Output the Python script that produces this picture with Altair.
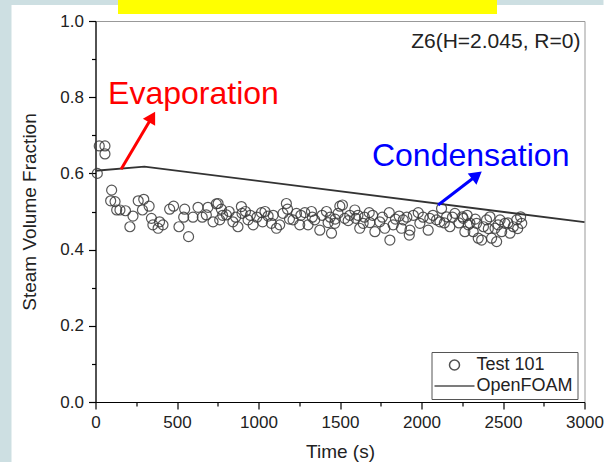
import altair as alt
import pandas as pd

# ---- Test 101 measurements (time s, steam volume fraction) ----
test_t = [11, 23, 58, 58, 93, 99, 120, 130, 150, 184, 211, 230, 262, 288, 296, 329, 343, 352,
          384, 393, 414, 455, 479, 512, 541, 547, 571, 598, 629, 655, 680, 690, 721, 741,
          752, 762, 772, 780, 803, 820, 843, 860, 874, 895, 899, 920, 936, 950, 967, 990,
          1018, 1025, 1040, 1059, 1079, 1090, 1110, 1130, 1150, 1171, 1178, 1190, 1212, 1233,
          1253, 1260, 1284, 1304, 1325, 1330, 1345, 1376, 1390, 1417, 1427, 1440, 1448, 1468,
          1470, 1488, 1499, 1515, 1529, 1550, 1560, 1591, 1597, 1610, 1621, 1642, 1650, 1679,
          1683, 1700, 1714, 1744, 1760, 1775, 1802, 1806, 1826, 1840, 1863, 1877, 1888, 1910,
          1925, 1929, 1950, 1980, 1990, 2010, 2041, 2051, 2070, 2092, 2113, 2123, 2140, 2154,
          2174, 2190, 2205, 2230, 2251, 2256, 2266, 2280, 2287, 2297, 2317, 2330, 2338, 2348,
          2369, 2380, 2399, 2410, 2420, 2430, 2451, 2461, 2470, 2482, 2492, 2512, 2530, 2543,
          2563, 2584, 2590, 2608, 2615]
test_v = [0.600, 0.672, 0.672, 0.651, 0.528, 0.556, 0.526, 0.504, 0.504, 0.502, 0.460, 0.488,
          0.528, 0.504, 0.532, 0.514, 0.482, 0.465, 0.456, 0.473, 0.465, 0.506, 0.514, 0.460,
          0.485, 0.506, 0.434, 0.485, 0.511, 0.485, 0.491, 0.511, 0.473, 0.520,
          0.521, 0.478, 0.506, 0.490, 0.491, 0.500, 0.473, 0.485, 0.460, 0.513, 0.495, 0.500,
          0.478, 0.490, 0.465, 0.485,
          0.497, 0.473, 0.500, 0.488, 0.469, 0.490, 0.456, 0.465, 0.495, 0.521, 0.506, 0.480,
          0.478, 0.495, 0.465, 0.490, 0.497, 0.465, 0.500, 0.485, 0.478, 0.451, 0.490, 0.500,
          0.471, 0.485, 0.443, 0.469, 0.480, 0.495, 0.514, 0.517, 0.482, 0.476, 0.490, 0.504,
          0.482, 0.490, 0.456, 0.469, 0.485, 0.497, 0.471, 0.490, 0.447, 0.473, 0.485, 0.456,
          0.497, 0.425, 0.465, 0.480, 0.488, 0.456, 0.478, 0.485, 0.438, 0.451, 0.490, 0.497,
          0.469, 0.485, 0.451, 0.482, 0.490, 0.478, 0.473, 0.508, 0.470, 0.486, 0.460, 0.485,
          0.495, 0.470, 0.486, 0.482, 0.447, 0.490, 0.465, 0.469, 0.447, 0.480, 0.469, 0.430,
          0.425, 0.460, 0.478, 0.455, 0.486, 0.430, 0.456, 0.421, 0.465, 0.478, 0.447, 0.469,
          0.470, 0.443, 0.460, 0.478, 0.455, 0.486, 0.469]

# ---- OpenFOAM simulation ----
sim_t = [0, 300, 3000]
sim_v = [0.607, 0.618, 0.472]

# ---- annotations ----
ann_text = ["Evaporation", "Condensation"]
ann_x = [77, 1696]
ann_y = [0.782, 0.619]
ann_color = ["#ff0000", "#0000ff"]
arrow_x0 = [157, 2102]
arrow_y0 = [0.611, 0.517]
arrow_x1 = [347, 2340]
arrow_y1 = [0.748, 0.595]
arrow_angle = [30, 52]

series = ["Test 101", "OpenFOAM"]

pts = pd.DataFrame({"t": test_t, "v": test_v, "series": "Test 101"})
sim = pd.DataFrame({"t": sim_t, "v": sim_v})
ann = pd.DataFrame({"text": ann_text, "x": ann_x, "y": ann_y, "c": ann_color})
arr = pd.DataFrame({"x0": arrow_x0, "y0": arrow_y0, "x1": arrow_x1, "y1": arrow_y1,
                    "c": ann_color, "a": arrow_angle})
lab = pd.DataFrame({"text": ["Z6(H=2.045, R=0)"], "x": [2975], "y": [0.945]})

xs = alt.Scale(domain=[0, 3000], nice=False, zero=False)
ys = alt.Scale(domain=[0, 1], nice=False)

FONT = "Liberation Sans"

main_x = alt.Axis(orient="bottom", values=[0, 500, 1000, 1500, 2000, 2500, 3000], format="d",
                  tickSize=7, labelFontSize=17, labelPadding=5, labelFlush=False,
                  labelOverlap=False, title="Time (s)", titleFontSize=19,
                  titleFontWeight="normal", titlePadding=12, grid=False, domainColor="#000",
                  tickColor="#000", labelColor="#222", titleColor="#222", domainWidth=1.2,
                  tickWidth=1.2)
main_y = alt.Axis(orient="left", values=[0, 0.2, 0.4, 0.6, 0.8, 1.0], format=".1f", tickSize=7,
                  labelFontSize=17, labelPadding=5, labelFlush=False, labelOverlap=False,
                  title="Steam Volume Fraction", titleFontSize=19, titleFontWeight="normal",
                  titlePadding=20, grid=False, domainColor="#000", tickColor="#000",
                  labelColor="#222", titleColor="#222", domainWidth=1.2, tickWidth=1.2)
minor_x = alt.Axis(orient="bottom", values=[250, 750, 1250, 1750, 2250, 2750], labels=False,
                   domain=False, tickSize=4, title=None, grid=False, tickColor="#000",
                   tickWidth=1.2)
minor_y = alt.Axis(orient="left", values=[0.1, 0.3, 0.5, 0.7, 0.9], labels=False, domain=False,
                   tickSize=4, title=None, grid=False, tickColor="#000", tickWidth=1.2)

one = alt.Data(values=[{}])

strip_left = alt.Chart(one).mark_rect(color="#cddfe2").encode(
    x=alt.value(-96), x2=alt.value(-84), y=alt.value(-21), y2=alt.value(441))
strip_top = alt.Chart(one).mark_rect(color="#cddfe2").encode(
    x=alt.value(-96), x2=alt.value(508), y=alt.value(-21), y2=alt.value(-16))
yellow = alt.Chart(one).mark_rect(color="#ffff00").encode(
    x=alt.value(22.5), x2=alt.value(401.5), y=alt.value(-21), y2=alt.value(-7))

legend = alt.Legend(
    title=None, orient="none", legendX=336, legendY=331,
    strokeColor="#555", padding=4, labelFontSize=18, labelColor="#222", labelFont=FONT,
    symbolSize=100, symbolOffset=10, labelOffset=13, rowPadding=3,
    symbolStrokeColor="#333", symbolStrokeWidth=1.5, symbolFillColor="transparent",
)

points = alt.Chart(pts).mark_point(filled=False, size=100, strokeWidth=1.2, color="#3a3a3a",
                                   opacity=0.85).encode(
    x=alt.X("t:Q", scale=xs, axis=main_x),
    y=alt.Y("v:Q", scale=ys, axis=main_y),
    shape=alt.Shape("series:N",
                    scale=alt.Scale(domain=series, range=["circle", "M-4,0H4"]),
                    legend=legend),
)

line = alt.Chart(sim).mark_line(color="#333", strokeWidth=1.8).encode(
    x=alt.X("t:Q", scale=xs, axis=minor_x),
    y=alt.Y("v:Q", scale=ys, axis=minor_y),
)

shafts = alt.Chart(arr).mark_rule(strokeWidth=3).encode(
    x=alt.X("x0:Q", scale=xs, axis=None), y=alt.Y("y0:Q", scale=ys, axis=None),
    x2="x1:Q", y2="y1:Q", color=alt.Color("c:N", scale=None))
heads = alt.Chart(arr).mark_point(shape="triangle-up", filled=True, size=200, opacity=1).encode(
    x=alt.X("x1:Q", scale=xs, axis=None), y=alt.Y("y1:Q", scale=ys, axis=None),
    angle=alt.Angle("a:Q", scale=None), color=alt.Color("c:N", scale=None))

texts = alt.Chart(ann).mark_text(fontSize=32, font=FONT, align="left",
                                 baseline="alphabetic").encode(
    x=alt.X("x:Q", scale=xs, axis=None), y=alt.Y("y:Q", scale=ys, axis=None),
    text="text:N", color=alt.Color("c:N", scale=None))

corner = alt.Chart(lab).mark_text(fontSize=21, font=FONT, align="right", baseline="middle",
                                  color="#222").encode(
    x=alt.X("x:Q", scale=xs, axis=None), y=alt.Y("y:Q", scale=ys, axis=None), text="text:N")

chart = alt.layer(strip_left, strip_top, yellow, line, points, shafts, heads, texts, corner).resolve_axis(
    x="independent", y="independent"
).properties(
    width=489, height=381,
    autosize=alt.AutoSizeParams(type="none"),
    padding={"left": 95.5, "top": 21, "right": 19.5, "bottom": 60},
    background="white",
).configure(font=FONT).configure_view(stroke="#999", strokeWidth=1)

chart.save("out.html", embed_options={"renderer": "svg", "actions": False})
